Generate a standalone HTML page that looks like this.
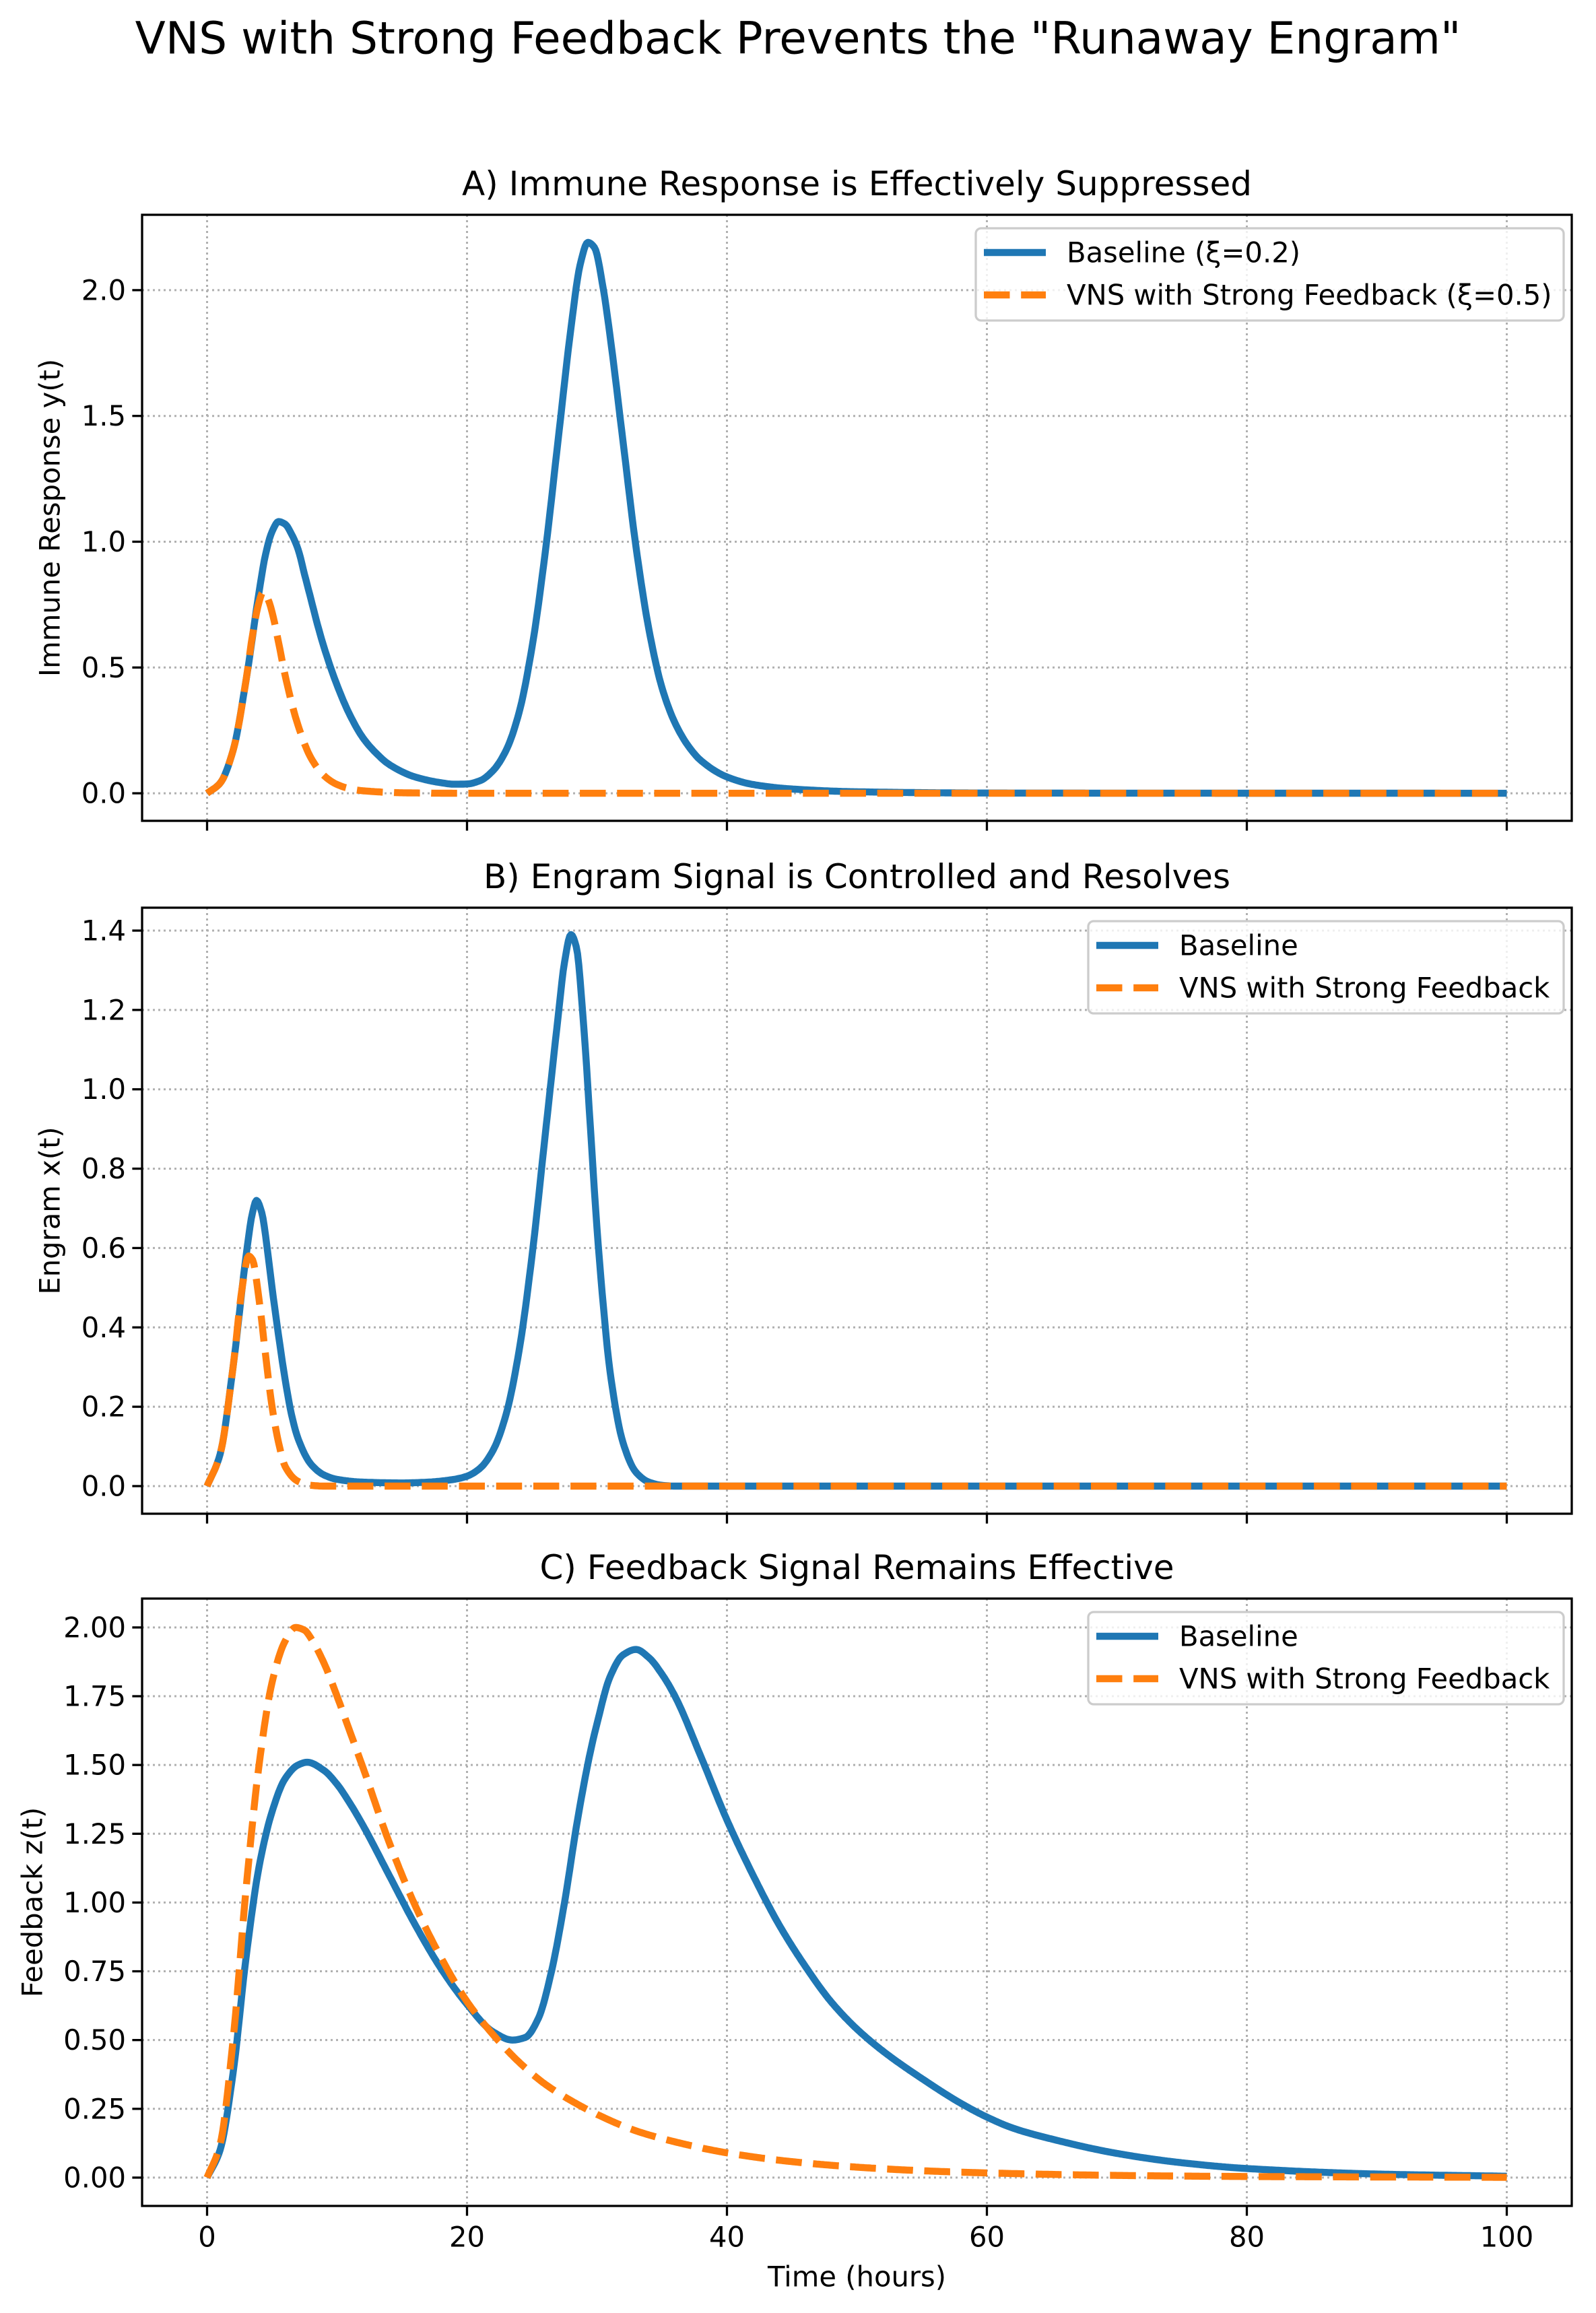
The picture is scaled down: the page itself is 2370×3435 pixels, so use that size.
<!DOCTYPE html>
<html><head><meta charset="utf-8"><style>
body{margin:0;background:#fff}
svg{display:block;font-family:"DejaVu Sans","Liberation Sans",sans-serif}
</style></head><body>
<svg id="fig" width="2370" height="3435" viewBox="0 0 2370 3435" xmlns="http://www.w3.org/2000/svg">
<rect width="2370" height="3435" fill="#fff"/>
<text x="1185" y="57" font-size="66" text-anchor="middle" dominant-baseline="central">VNS with Strong Feedback Prevents the "Runaway Engram"</text>
</svg>
<script>
// Panel A data
const tA_base=[0,1,2,3,4,4.5,5,5.5,6,6.5,7,7.5,8,8.5,9,10,11,12,13,14,16,18,19,20,21,22,23,24,25,26,27,28,28.7,29.3,29.8,30.5,31,32,33,34,35,36,37,38,40,42,45,50,60,100];
const yA_base=[0,0.04,0.17,0.45,0.8,0.95,1.04,1.08,1.07,1.03,0.97,0.87,0.77,0.67,0.58,0.43,0.31,0.22,0.16,0.115,0.065,0.042,0.036,0.037,0.05,0.09,0.17,0.32,0.58,0.95,1.4,1.85,2.1,2.19,2.17,2.0,1.82,1.4,0.98,0.65,0.42,0.28,0.19,0.13,0.065,0.035,0.017,0.006,0.001,0];
const tA_vns=[0,1,2,3,3.5,4,4.3,4.7,5,5.5,6,7,8,9,10,11,12,15,20,100];
const yA_vns=[0,0.04,0.17,0.45,0.63,0.76,0.8,0.77,0.72,0.6,0.47,0.27,0.14,0.07,0.035,0.018,0.01,0.002,0,0];
// Panel B data
const tB_base=[0,1,2,3,3.5,3.8,4.2,4.7,5,5.5,6,6.5,7,8,9,10,12,15,17,19,20,21,22,23,24,25,26,27,27.5,28,28.4,29,29.5,30,30.5,31,32,33,34,35,36,100];
const yB_base=[0,0.08,0.3,0.58,0.69,0.72,0.69,0.58,0.5,0.38,0.27,0.18,0.12,0.055,0.028,0.017,0.01,0.008,0.01,0.017,0.025,0.045,0.09,0.18,0.34,0.58,0.88,1.18,1.32,1.39,1.36,1.15,0.9,0.65,0.45,0.29,0.11,0.035,0.01,0.002,0,0];
const tB_vns=[0,1,2,2.7,3.2,3.5,4,4.5,5,5.5,6,7,8,9,100];
const yB_vns=[0,0.08,0.3,0.5,0.58,0.57,0.47,0.33,0.2,0.11,0.05,0.012,0.002,0,0];
// Panel C data
const tC_base=[0,1,2,3,4,5,6,7,7.7,9,10,11,12,14,16,18,20,22,23.5,24.5,25.5,26.5,27.5,28.5,29.5,30,31,32,33,34,35,36,38,40,42,44,46,48,50,52,55,58,60,62,65,70,75,80,90,100];
const yC_base=[0,0.1,0.38,0.8,1.13,1.33,1.45,1.5,1.51,1.48,1.43,1.36,1.28,1.1,0.92,0.76,0.63,0.53,0.5,0.51,0.58,0.75,1.0,1.3,1.55,1.65,1.82,1.9,1.92,1.89,1.83,1.75,1.53,1.3,1.1,0.92,0.77,0.64,0.54,0.46,0.36,0.27,0.22,0.18,0.14,0.088,0.054,0.033,0.013,0.005];
const tC_vns=[0,1,2,3,4,5,6,6.8,7.5,8,9,10,11,12,14,16,18,20,22,24,26,28,30,33,36,40,45,50,55,60,70,80,100];
const yC_vns=[0,0.12,0.5,1.05,1.5,1.8,1.95,2.0,1.99,1.96,1.87,1.75,1.62,1.49,1.22,0.99,0.8,0.64,0.52,0.42,0.34,0.28,0.23,0.17,0.13,0.09,0.058,0.038,0.025,0.017,0.008,0.004,0.001];
const xTicks=[0,20,40,60,80,100];
const yTicksA=[0,0.5,1.0,1.5,2.0];
const yTicksB=[0,0.2,0.4,0.6,0.8,1.0,1.2,1.4];
const yTicksC=[0,0.25,0.5,0.75,1.0,1.25,1.5,1.75,2.0];

const NS="http://www.w3.org/2000/svg";
const svg=document.getElementById('fig');
function mk(tag,attrs,parent){const e=document.createElementNS(NS,tag);for(const k in attrs)e.setAttribute(k,attrs[k]);(parent||svg).appendChild(e);return e;}
const L=211,R=2334;
function xs(t){return L+(t+5)/110*(R-L);}
function mono(xa,ya){const n=xa.length,d=[],m=new Array(n);
 for(let i=0;i<n-1;i++)d.push((ya[i+1]-ya[i])/(xa[i+1]-xa[i]));
 m[0]=d[0];m[n-1]=d[n-2];
 for(let i=1;i<n-1;i++){const h0=xa[i]-xa[i-1],h1=xa[i+1]-xa[i];
  if(d[i-1]*d[i]<=0)m[i]=0;else{const w1=2*h1+h0,w2=h1+2*h0;m[i]=(w1+w2)/(w1/d[i-1]+w2/d[i]);}}
 return function(x){let i=0;while(i<n-2&&x>xa[i+1])i++;const h=xa[i+1]-xa[i],s=(x-xa[i])/h;
  const h00=2*s*s*s-3*s*s+1,h10=s*s*s-2*s*s+s,h01=-2*s*s*s+3*s*s,h11=s*s*s-s*s;
  return h00*ya[i]+h10*h*m[i]+h01*ya[i+1]+h11*h*m[i+1];};}
function panel(o){
 const top=o.top,bot=o.bot,ymin=o.ymin,ymax=o.ymax;
 const ys=v=>bot-(v-ymin)/(ymax-ymin)*(bot-top);
 const g=mk('g',{});
 xTicks.forEach(t=>{const l=mk('line',{x1:xs(t),x2:xs(t),y1:top,y2:bot,stroke:'#b0b0b0','stroke-width':3,'stroke-dasharray':'3 5'},g);});
 o.yt.forEach(v=>{const l=mk('line',{x1:L,x2:R,y1:ys(v),y2:ys(v),stroke:'#b0b0b0','stroke-width':3,'stroke-dasharray':'3 5'},g);});
 const cp=mk('clipPath',{id:'cp'+o.name},g);mk('rect',{x:L,y:top,width:R-L,height:bot-top},cp);
 [[o.tb,o.yb,'#1f77b4',null,'baseline-line'],[o.tv,o.yv,'#ff7f0e','38.5 16.7','vns-line']].forEach(s=>{
  const f=mono(s[0],s[1]);let d='';for(let t=0;t<=100.001;t+=0.1){d+=(t===0?'M':'L')+xs(t).toFixed(1)+' '+ys(f(t)).toFixed(1);}
  const p=mk('path',{d:d,fill:'none',stroke:s[2],'stroke-width':10.4,'stroke-linejoin':'round','clip-path':'url(#cp'+o.name+')'},g);
  if(s[3])p.setAttribute('stroke-dasharray',s[3]);
  });
 const fr=mk('rect',{x:L,y:top,width:R-L,height:bot-top,fill:'none',stroke:'#000','stroke-width':3.3},g);
 
 xTicks.forEach(t=>{mk('line',{x1:xs(t),x2:xs(t),y1:bot,y2:bot+14.6,stroke:'#000','stroke-width':3.3},g);
  if(o.xlabels){const tx=mk('text',{x:xs(t),y:bot+46,'font-size':41.7,'text-anchor':'middle','dominant-baseline':'central'},g);tx.textContent=t;}});
 o.yt.forEach(v=>{mk('line',{x1:L-14.6,x2:L,y1:ys(v),y2:ys(v),stroke:'#000','stroke-width':3.3},g);
  const tx=mk('text',{x:L-24,y:ys(v),'font-size':41.7,'text-anchor':'end','dominant-baseline':'central'},g);tx.textContent=v.toFixed(o.dec);});
 const tt=mk('text',{x:(L+R)/2,y:top-46,'font-size':50,'text-anchor':'middle','dominant-baseline':'central'},g);tt.textContent=o.title;
 
 const yl=mk('text',{x:o.ylx,y:(top+bot)/2,'font-size':41.7,'text-anchor':'middle','dominant-baseline':'central',transform:'rotate(-90 '+o.ylx+' '+(top+bot)/2+')'},g);yl.textContent=o.ylabel;
 
 const lg=mk('g',{},g);
 const ly=top+20;
 mk('rect',{x:o.lx,y:ly,width:2322-o.lx,height:137,rx:8,fill:'#fff','fill-opacity':0.8,stroke:'#cccccc','stroke-width':3.3},lg);
 const r1=ly+36,r2=ly+99;
 const e1=mk('line',{x1:o.lx+12,x2:o.lx+104,y1:r1,y2:r1,stroke:'#1f77b4','stroke-width':10.4},lg);
 const e2=mk('line',{x1:o.lx+12,x2:o.lx+104,y1:r2,y2:r2,stroke:'#ff7f0e','stroke-width':10.4,'stroke-dasharray':'38.5 16.7'},lg);
 const a=mk('text',{x:o.lx+135,y:r1,'font-size':41.7,'dominant-baseline':'central'},lg);a.textContent=o.l1;
 const b=mk('text',{x:o.lx+135,y:r2,'font-size':41.7,'dominant-baseline':'central'},lg);b.textContent=o.l2;
}
panel({name:'panel-a',top:319,bot:1219,ymin:-0.1095,ymax:2.2995,yt:yTicksA,dec:1,tb:tA_base,yb:yA_base,tv:tA_vns,yv:yA_vns,title:'A) Immune Response is Effectively Suppressed',ylabel:'Immune Response y(t)',ylx:74,lx:1449,l1:'Baseline (ξ=0.2)',l2:'VNS with Strong Feedback (ξ=0.5)',xlabels:false});
panel({name:'panel-b',top:1348,bot:2248,ymin:-0.0696,ymax:1.4577,yt:yTicksB,dec:1,tb:tB_base,yb:yB_base,tv:tB_vns,yv:yB_vns,title:'B) Engram Signal is Controlled and Resolves',ylabel:'Engram x(t)',ylx:74,lx:1616,l1:'Baseline',l2:'VNS with Strong Feedback',xlabels:false});
panel({name:'panel-c',top:2374,bot:3276,ymin:-0.103,ymax:2.105,yt:yTicksC,dec:2,tb:tC_base,yb:yC_base,tv:tC_vns,yv:yC_vns,title:'C) Feedback Signal Remains Effective',ylabel:'Feedback z(t)',ylx:48,lx:1616,l1:'Baseline',l2:'VNS with Strong Feedback',xlabels:true});
const xl=mk('text',{x:(L+R)/2,y:3381,'font-size':41.7,'text-anchor':'middle','dominant-baseline':'central'});xl.textContent='Time (hours)';


</script>
</body></html>
